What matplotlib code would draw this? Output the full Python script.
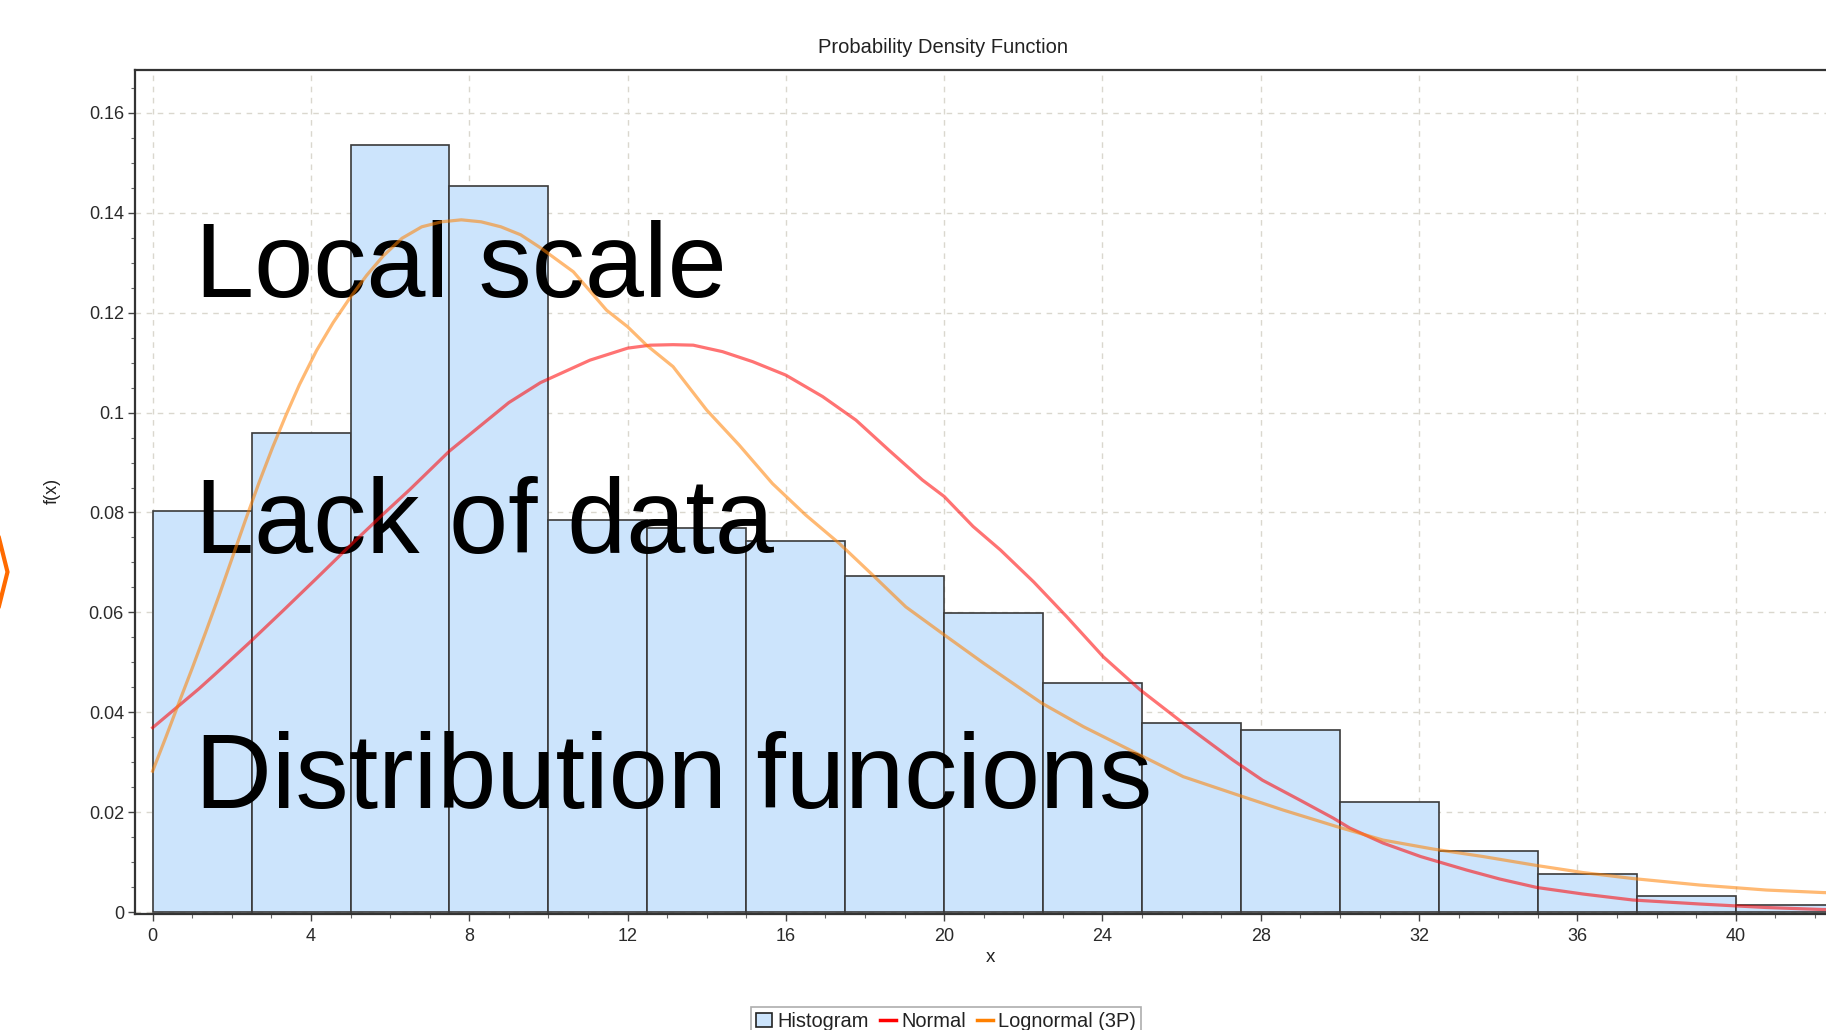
import matplotlib
matplotlib.use("Agg")
import matplotlib.pyplot as plt
from matplotlib.patches import Patch
from matplotlib.lines import Line2D
from matplotlib.ticker import MultipleLocator, FixedLocator, FixedFormatter

# ---------------- data ----------------
bin_left = [0, 2.5, 5, 7.5, 10, 12.5, 15, 17.5, 20, 22.5, 25, 27.5, 30, 32.5, 35, 37.5, 40]
bin_width = 2.5
hist_density = [0.0803, 0.0960, 0.1536, 0.1454, 0.0785, 0.0768, 0.0743, 0.0673, 0.0598,
                0.0459, 0.0379, 0.0364, 0.0221, 0.0123, 0.0077, 0.0033, 0.0015]

normal_x = [0, 0.66, 1.17, 1.59, 2.44, 3.29, 4.14, 4.98, 5.83, 6.5, 7.5, 9.0, 9.8, 11.05,
            12.0, 12.57, 13.15, 13.66, 14.4, 15.16, 16.0, 16.93, 17.77, 18.6, 19.45, 20.0,
            20.73, 21.42, 22.26, 23.1, 24.02, 24.95, 26.04, 27.3, 28.04, 28.99, 29.83, 30.25,
            31.09, 32.04, 33.2, 34.04, 34.98, 36.14, 37.4, 39.09, 40.77, 42.18, 44.0]
normal_y = [0.0369, 0.0413, 0.0447, 0.0477, 0.0539, 0.0603, 0.0668, 0.0733, 0.0797, 0.0846,
            0.0923, 0.1020, 0.1060, 0.1105, 0.1129, 0.1135, 0.1136, 0.1135, 0.1122, 0.1102,
            0.1075, 0.1032, 0.0985, 0.0925, 0.0865, 0.0832, 0.0772, 0.0725, 0.0661, 0.0591,
            0.0511, 0.0445, 0.0378, 0.0304, 0.0264, 0.0224, 0.0188, 0.0168, 0.0138, 0.0111,
            0.0084, 0.0066, 0.0049, 0.0036, 0.0024, 0.0016, 0.0009, 0.0005, 0.0003]

lognorm_x = [0, 0.32, 0.66, 1.0, 1.34, 1.68, 2.02, 2.36, 2.69, 3.03, 3.37, 3.71, 4.14, 4.56,
             4.98, 5.41, 5.83, 6.3, 6.8, 7.3, 7.8, 8.3, 8.8, 9.3, 9.8, 10.63, 11.47, 12.0,
             12.48, 13.15, 14.0, 14.82, 15.66, 16.5, 17.35, 18.19, 19.03, 20.0, 21.0, 22.47,
             23.52, 24.78, 26.04, 27.43, 28.57, 29.92, 31.09, 32.36, 33.62, 34.98, 36.14,
             37.4, 39.09, 40.77, 42.18, 44.0]
lognorm_y = [0.0282, 0.0347, 0.0418, 0.0488, 0.0560, 0.0634, 0.0711, 0.0788, 0.0860, 0.0930,
             0.0995, 0.1056, 0.1124, 0.1180, 0.1229, 0.1275, 0.1314, 0.1349, 0.1372, 0.1382,
             0.1386, 0.1382, 0.1372, 0.1356, 0.1330, 0.1282, 0.1205, 0.1172, 0.1135, 0.1092,
             0.1005, 0.0935, 0.0858, 0.0795, 0.0738, 0.0675, 0.0611, 0.0555, 0.0498, 0.0418,
             0.0371, 0.0321, 0.0271, 0.0234, 0.0204, 0.0171, 0.0144, 0.0126, 0.0111, 0.0093,
             0.0079, 0.0067, 0.0054, 0.0044, 0.0039, 0.0034]

x_ticks = [0, 4, 8, 12, 16, 20, 24, 28, 32, 36, 40]
y_ticks = [0, 0.02, 0.04, 0.06, 0.08, 0.1, 0.12, 0.14, 0.16]
y_tick_labels = ["0", "0.02", "0.04", "0.06", "0.08", "0.1", "0.12", "0.14", "0.16"]
legend_labels = ["Histogram", "Normal", "Lognormal (3P)"]
overlay_lines = ["Local scale", "Lack of data", "Distribution funcions"]

# ---------------- figure ----------------
W, H = 1826, 1030
FONT = ["Liberation Sans", "DejaVu Sans"]
plt.rcParams["font.family"] = FONT

fig = plt.figure(figsize=(W / 100, H / 100), dpi=100)
ax = fig.add_axes([135 / W, (H - 914) / H, (1900 - 135) / W, (914 - 69.5) / H])
ax.set_xlim(-0.445, 44.15)
ax.set_ylim(-0.0004, 0.1687)

bar_color = "#cce4fc"
edge_color = "#3a3a3a"
ax.bar(bin_left, hist_density, width=bin_width, align="edge", color=bar_color,
       edgecolor=edge_color, linewidth=1.2, zorder=2)

ax.plot(normal_x, normal_y, color="red", alpha=0.55, lw=2.3, zorder=5)
ax.plot(lognorm_x, lognorm_y, color="#ff8000", alpha=0.55, lw=2.3, zorder=5)

# grid
ax.set_axisbelow(True)
ax.grid(True, which="major", color="#dad7ce", linestyle=(0, (4, 4)), linewidth=1.0)

# ticks
ax.xaxis.set_major_locator(FixedLocator(x_ticks))
ax.xaxis.set_minor_locator(MultipleLocator(1))
ax.yaxis.set_major_locator(FixedLocator(y_ticks))
ax.yaxis.set_major_formatter(FixedFormatter(y_tick_labels))
ax.yaxis.set_minor_locator(MultipleLocator(0.005))
ax.tick_params(which="major", direction="out", length=5, width=1, color="#444",
               labelsize=13, labelcolor="#2a2a2a", pad=3)
ax.tick_params(which="minor", direction="out", length=3, width=0.8, color="#666")
ax.tick_params(axis="x", which="major", pad=5)

for s in ["left", "bottom", "top"]:
    ax.spines[s].set_color("#333333")
    ax.spines[s].set_linewidth(1.6)
ax.spines["right"].set_visible(False)

# titles / labels placed in figure pixels
fig.text(943 / W, 1 - 47.5 / H, "Probability Density Function", ha="center", va="center",
         fontsize=14.5, color="#222222")
fig.text(990 / W, 1 - 958 / H, "x", ha="center", va="center", fontsize=13.5, color="#222222")
fig.text(52 / W, 1 - 491 / H, "f(x)", ha="center", va="center", rotation=90,
         fontsize=13, color="#222222")

# legend
handles = [Patch(facecolor=bar_color, edgecolor="#222222", linewidth=1.2),
           Line2D([], [], color="red", lw=2.5),
           Line2D([], [], color="#ff8000", lw=2.5)]
leg = ax.legend(handles, legend_labels, loc="upper center",
                bbox_to_anchor=(946 / W, 1 - 1007 / H), bbox_transform=fig.transFigure,
                ncol=3, frameon=True, fancybox=False, edgecolor="#999999",
                borderpad=0.25, handlelength=0.8, handletextpad=0.25, columnspacing=0.55,
                fontsize=14.4, borderaxespad=0)
leg.get_frame().set_linewidth(1.2)
for t in leg.get_texts():
    t.set_color("#222222")

# big overlay text (between bars and curves)
baselines = [297, 552.7, 808.3]
for txt, yb in zip(overlay_lines, baselines):
    ax.text(195 / W, 1 - yb / H, txt, transform=fig.transFigure, ha="left", va="baseline",
            fontsize=76.5, color="black", zorder=4, clip_on=False)

# partial orange shape at the left edge
fig.add_artist(Line2D([-4 / W, 7.5 / W, -4 / W], [1 - 526 / H, 1 - 572 / H, 1 - 618 / H],
                      transform=fig.transFigure, color="#ff6a00", lw=3, solid_joinstyle="miter"))

fig.savefig("out.png", dpi=100)
